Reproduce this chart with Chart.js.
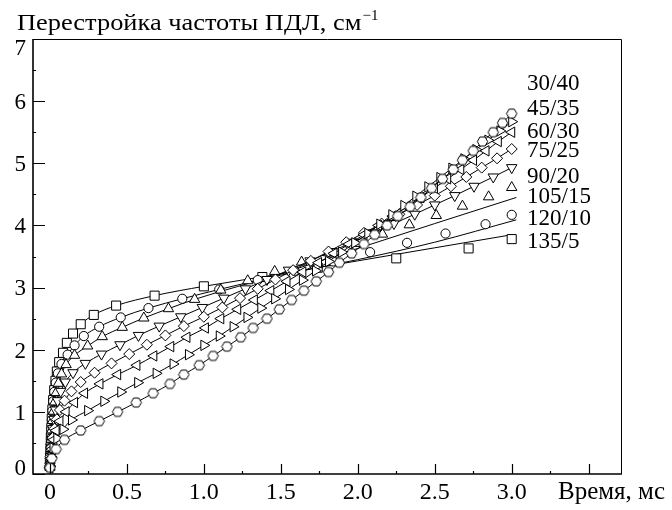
<!DOCTYPE html>
<html><head><meta charset="utf-8">
<script src="https://cdn.jsdelivr.net/npm/chart.js@4/dist/chart.umd.min.js"></script>
<style>html,body{margin:0;padding:0;background:#fff}#wrap{width:672px;height:510px}</style>
</head><body><div id="wrap"><canvas id="c" width="672" height="510"></canvas></div>
<script>
// ---- data ----
const seriesNames = ['30/40','45/35','60/30','75/25','90/20','105/15','120/10','135/5'];
const xTickLabels = ['0','0.5','1.0','1.5','2.0','2.5','3.0'];
const yTickLabels = ['0','1','2','3','4','5','6','7'];

const t3040 = [0,0.012,0.04,0.095,0.20,0.32,0.44,0.56,0.67,0.78,0.87,0.97,1.06,1.15,1.24,1.32,1.41,1.49,1.57,1.65,1.73,1.81,1.88,1.96,2.04,2.11,2.19,2.26,2.34,2.41,2.48,2.55,2.62,2.68,2.75,2.81,2.88,2.94,3.00];
const v3040 = [0.10,0.25,0.40,0.55,0.70,0.85,1.00,1.15,1.30,1.45,1.60,1.75,1.90,2.05,2.20,2.35,2.50,2.65,2.80,2.95,3.10,3.25,3.40,3.55,3.70,3.85,4.00,4.15,4.30,4.45,4.60,4.75,4.90,5.05,5.20,5.35,5.50,5.65,5.80];

const t4535 = [0,0.008,0.02,0.045,0.085,0.14,0.245,0.35,0.46,0.57,0.69,0.80,0.90,1.00,1.10,1.19,1.28,1.37,1.46,1.55,1.64,1.725,1.81,1.895,1.98,2.065,2.143,2.221,2.299,2.377,2.455,2.533,2.611,2.689,2.767,2.845,2.923,3.0];
const v4535 = [0.12,0.27,0.42,0.57,0.72,0.87,1.02,1.17,1.32,1.47,1.62,1.77,1.92,2.07,2.22,2.37,2.52,2.67,2.82,2.97,3.12,3.27,3.42,3.57,3.72,3.87,4.02,4.17,4.32,4.47,4.62,4.77,4.92,5.07,5.22,5.37,5.52,5.67];

const t6030 = [0,0.005,0.013,0.025,0.04,0.065,0.105,0.16,0.225,0.325,0.44,0.565,0.675,0.785,0.89,1.01,1.11,1.22,1.328,1.435,1.54,1.643,1.745,1.845,1.943,2.04,2.135,2.228,2.32,2.41,2.498,2.584,2.669,2.752,2.833,2.913,3.0];
const v6030 = [0.10,0.25,0.40,0.55,0.70,0.85,1.00,1.15,1.30,1.45,1.60,1.75,1.90,2.05,2.20,2.35,2.50,2.65,2.80,2.95,3.10,3.25,3.40,3.55,3.70,3.85,4.00,4.15,4.30,4.45,4.60,4.75,4.90,5.05,5.20,5.35,5.50];

const t7525 = [0,0.004,0.01,0.018,0.03,0.045,0.065,0.095,0.14,0.20,0.29,0.40,0.515,0.63,0.75,0.87,1.00,1.12,1.235,1.35,1.465,1.58,1.695,1.81,1.925,2.04,2.155,2.27,2.385,2.50,2.605,2.705,2.805,2.905,3.0];
const v7525 = [0.13,0.28,0.43,0.58,0.73,0.88,1.03,1.18,1.33,1.48,1.63,1.78,1.93,2.08,2.23,2.38,2.53,2.68,2.83,2.98,3.13,3.28,3.43,3.58,3.73,3.88,4.03,4.18,4.33,4.48,4.63,4.78,4.93,5.08,5.23];

const t9020 = [0,0.003,0.007,0.012,0.018,0.026,0.036,0.05,0.07,0.10,0.15,0.23,0.335,0.455,0.575,0.71,0.85,0.99,1.13,1.27,1.41,1.55,1.69,1.83,1.965,2.10,2.235,2.37,2.50,2.63,2.755,2.88,3.0];
const v9020 = [0.13,0.28,0.43,0.58,0.73,0.88,1.03,1.18,1.33,1.48,1.63,1.78,1.93,2.08,2.23,2.38,2.53,2.68,2.83,2.98,3.13,3.28,3.43,3.58,3.73,3.88,4.03,4.18,4.33,4.48,4.63,4.78,4.93];

const t10515 = [0,0.002,0.005,0.008,0.012,0.017,0.023,0.031,0.041,0.055,0.075,0.105,0.16,0.245,0.34,0.47,0.61,0.77,0.94,1.11,1.285,1.46,1.635,1.81,1.985,2.16,2.335,2.51,2.68,2.85,3.0];
const v10515 = [0.11,0.26,0.41,0.56,0.71,0.86,1.01,1.16,1.31,1.46,1.61,1.76,1.91,2.06,2.21,2.36,2.51,2.66,2.81,2.96,3.11,3.26,3.41,3.56,3.71,3.86,4.01,4.16,4.31,4.46,4.61];
const fitT10515 = [0,0.002,0.005,0.008,0.012,0.017,0.023,0.031,0.041,0.055,0.075,0.105,0.16,0.245,0.34,0.47,0.61,0.77,0.94,1.5,2.0,2.5,3.03];
const fitV10515 = [0.11,0.26,0.41,0.56,0.71,0.86,1.01,1.16,1.31,1.46,1.61,1.76,1.91,2.06,2.21,2.36,2.51,2.66,2.81,3.22,3.63,4.03,4.45];

const t12010 = [0,0.002,0.004,0.006,0.009,0.012,0.016,0.021,0.028,0.038,0.052,0.075,0.115,0.16,0.22,0.32,0.46,0.64,0.86,1.10,1.35,1.59,1.84,2.08,2.32,2.57,2.83,3.0];
const v12010 = [0.12,0.27,0.42,0.57,0.72,0.87,1.02,1.17,1.32,1.47,1.62,1.77,1.92,2.07,2.22,2.37,2.52,2.67,2.82,2.97,3.12,3.27,3.42,3.57,3.72,3.87,4.02,4.17];
const fitT12010 = [0,0.002,0.004,0.006,0.009,0.012,0.016,0.021,0.028,0.038,0.052,0.075,0.115,0.16,0.22,0.32,0.46,0.64,0.86,1.10,1.5,2.0,2.5,3.03];
const fitV12010 = [0.12,0.27,0.42,0.57,0.72,0.87,1.02,1.17,1.32,1.47,1.62,1.77,1.92,2.07,2.22,2.37,2.52,2.67,2.82,2.97,3.2,3.45,3.73,4.09];

const t1355 = [0,0.002,0.004,0.006,0.009,0.012,0.016,0.021,0.028,0.036,0.045,0.06,0.085,0.11,0.15,0.2,0.285,0.43,0.68,1.0,1.38,1.74,2.25,2.72,3.0];
const v1355 = [0.13,0.28,0.43,0.59,0.74,0.89,1.04,1.19,1.35,1.50,1.65,1.80,1.95,2.11,2.26,2.41,2.56,2.71,2.87,3.02,3.17,3.32,3.47,3.63,3.78];
const fitT1355 = [0,0.002,0.004,0.006,0.009,0.012,0.016,0.021,0.028,0.036,0.045,0.06,0.085,0.11,0.15,0.2,0.285,0.43,0.68,1.0,1.5,2.0,2.5,3.0];
const fitV1355 = [0.13,0.28,0.43,0.59,0.74,0.89,1.04,1.19,1.35,1.50,1.65,1.80,1.95,2.11,2.26,2.41,2.56,2.71,2.87,3.02,3.22,3.43,3.64,3.85];

// label anchor (data coords) for series names
const labelX = 3.1;
const labelY = [6.30, 5.91, 5.54, 5.22, 4.81, 4.49, 4.14, 3.77];

// ---- build ----
const FONT = '"Liberation Serif", "Times New Roman", serif';
function pts(t, v){ return t.map((x,i)=>({x:x, y:v[i]})); }

const hexImg = (()=>{
  const c=document.createElement('canvas'); c.width=13; c.height=13;
  const g=c.getContext('2d'); g.fillStyle='#fff'; g.strokeStyle='#000'; g.lineWidth=1;
  g.beginPath();
  for(let i=0;i<6;i++){const a=Math.PI/3*i; const x=6.5+5.2*Math.cos(a), y=6.5+5.2*Math.sin(a); if(i) g.lineTo(x,y); else g.moveTo(x,y);}
  g.closePath(); g.fill(); g.stroke(); return c;
})();

function markerDS(t, v, style, rot, r, line){
  return {data: pts(t,v), showLine: line, borderColor:'#000', borderWidth:1,
    pointStyle: style, rotation: rot, pointRadius: r, pointHoverRadius: r,
    pointBackgroundColor:'#fff', pointBorderColor:'#000', pointBorderWidth:1,
    cubicInterpolationMode:'monotone', fill:false};
}
function lineDS(t, v){
  return {data: pts(t,v), showLine:true, borderColor:'#000', borderWidth:1, pointRadius:0,
    cubicInterpolationMode:'monotone', fill:false};
}

const datasets = [
  markerDS(t3040, v3040, hexImg, 0, 5, true),
  markerDS(t4535, v4535, 'triangle', 90, 6, true),
  markerDS(t6030, v6030, 'triangle', 270, 6, true),
  markerDS(t7525, v7525, 'rectRot', 0, 5.5, true),
  markerDS(t9020, v9020, 'triangle', 180, 6, true),
  markerDS(t10515, v10515, 'triangle', 0, 6, false),
  markerDS(t12010, v12010, 'circle', 0, 4.6, false),
  markerDS(t1355, v1355, 'rect', 0, 6.4, false),
  lineDS(fitT10515, fitV10515),
  lineDS(fitT12010, fitV12010),
  lineDS(fitT1355, fitV1355)
];

function stretchText(ctx, s, x, y, sx){
  ctx.save(); ctx.translate(x, y); ctx.scale(sx, 1); ctx.fillText(s, 0, 0); ctx.restore();
  return ctx.measureText(s).width * sx;
}

const deco = {
  id:'deco',
  afterDraw(chart){
    const {ctx, chartArea:a, scales:{x, y}} = chart;
    ctx.save();
    ctx.strokeStyle='#000';
    // top & right frame (thin)
    ctx.lineWidth=1;
    ctx.beginPath();
    ctx.moveTo(a.left, a.top+0.5); ctx.lineTo(a.right+0.5, a.top+0.5); ctx.lineTo(a.right+0.5, a.bottom);
    ctx.stroke();
    // left & bottom axes
    ctx.lineWidth=1.6;
    ctx.beginPath();
    ctx.moveTo(a.left, a.top); ctx.lineTo(a.left, a.bottom); ctx.lineTo(a.right+1, a.bottom);
    ctx.stroke();
    ctx.lineWidth=1.2;
    ctx.beginPath();
    for(let i=0;i<=14;i++){
      const v=i*0.25; if(v> x.max) break;
      const px=Math.round(x.getPixelForValue(v))+0.5;
      const len=(i%2===0)?10:3;
      ctx.moveTo(px,a.bottom); ctx.lineTo(px,a.bottom-len);
    }
    for(let i=0;i<=14;i++){
      const v=i*0.5;
      const py=Math.round(y.getPixelForValue(v))+0.5;
      const len=(i%2===0)?12:3;
      ctx.moveTo(a.left,py); ctx.lineTo(a.left+len,py);
    }
    ctx.stroke();
    ctx.fillStyle='#000';
    ctx.textBaseline='alphabetic';
    // y tick labels
    ctx.font='23px '+FONT;
    ctx.textAlign='right';
    yTickLabels.forEach((s,i)=>{
      let c=y.getPixelForValue(i);
      c=Math.min(Math.max(c, a.top+8.5), a.bottom-6.5);
      ctx.fillText(s, a.left-7, c+7.8);
    });
    // x tick labels
    ctx.font='24px '+FONT;
    ctx.textAlign='center';
    xTickLabels.forEach((s,i)=>{
      ctx.fillText(s, x.getPixelForValue(i*0.5), a.bottom+25);
    });
    ctx.textAlign='left';
    ctx.font='25px '+FONT;
    ctx.fillText('Время, мс', 558, a.bottom+25);
    // series labels
    ctx.font='23px '+FONT;
    seriesNames.forEach((s,i)=>{
      ctx.fillText(s, x.getPixelForValue(labelX), y.getPixelForValue(labelY[i])+7.8);
    });
    // title
    ctx.font='24px '+FONT;
    const w = stretchText(ctx, 'Перестройка частоты ПДЛ, см', 17, 30, 1.1);
    ctx.font='15px '+FONT;
    ctx.fillText('\u22121', 17+w+1, 20);
    ctx.restore();
  }
};

new Chart(document.getElementById('c'), {
  type:'scatter',
  data:{datasets},
  options:{
    responsive:false, animation:false, events:[],
    layout:{padding:{top:39, right:51, left:0, bottom:0}},
    plugins:{legend:{display:false}, tooltip:{enabled:false}, title:{display:false}},
    scales:{
      x:{type:'linear', min:-0.11, max:3.71,
         grid:{display:false, drawTicks:false}, border:{display:false},
         ticks:{display:false},
         afterFit(s){ s.height=36; }},
      y:{type:'linear', min:0, max:7,
         grid:{display:false, drawTicks:false}, border:{display:false},
         ticks:{display:false},
         afterFit(s){ s.width=33; }}
    }
  },
  plugins:[deco]
});
</script>
</body></html>
